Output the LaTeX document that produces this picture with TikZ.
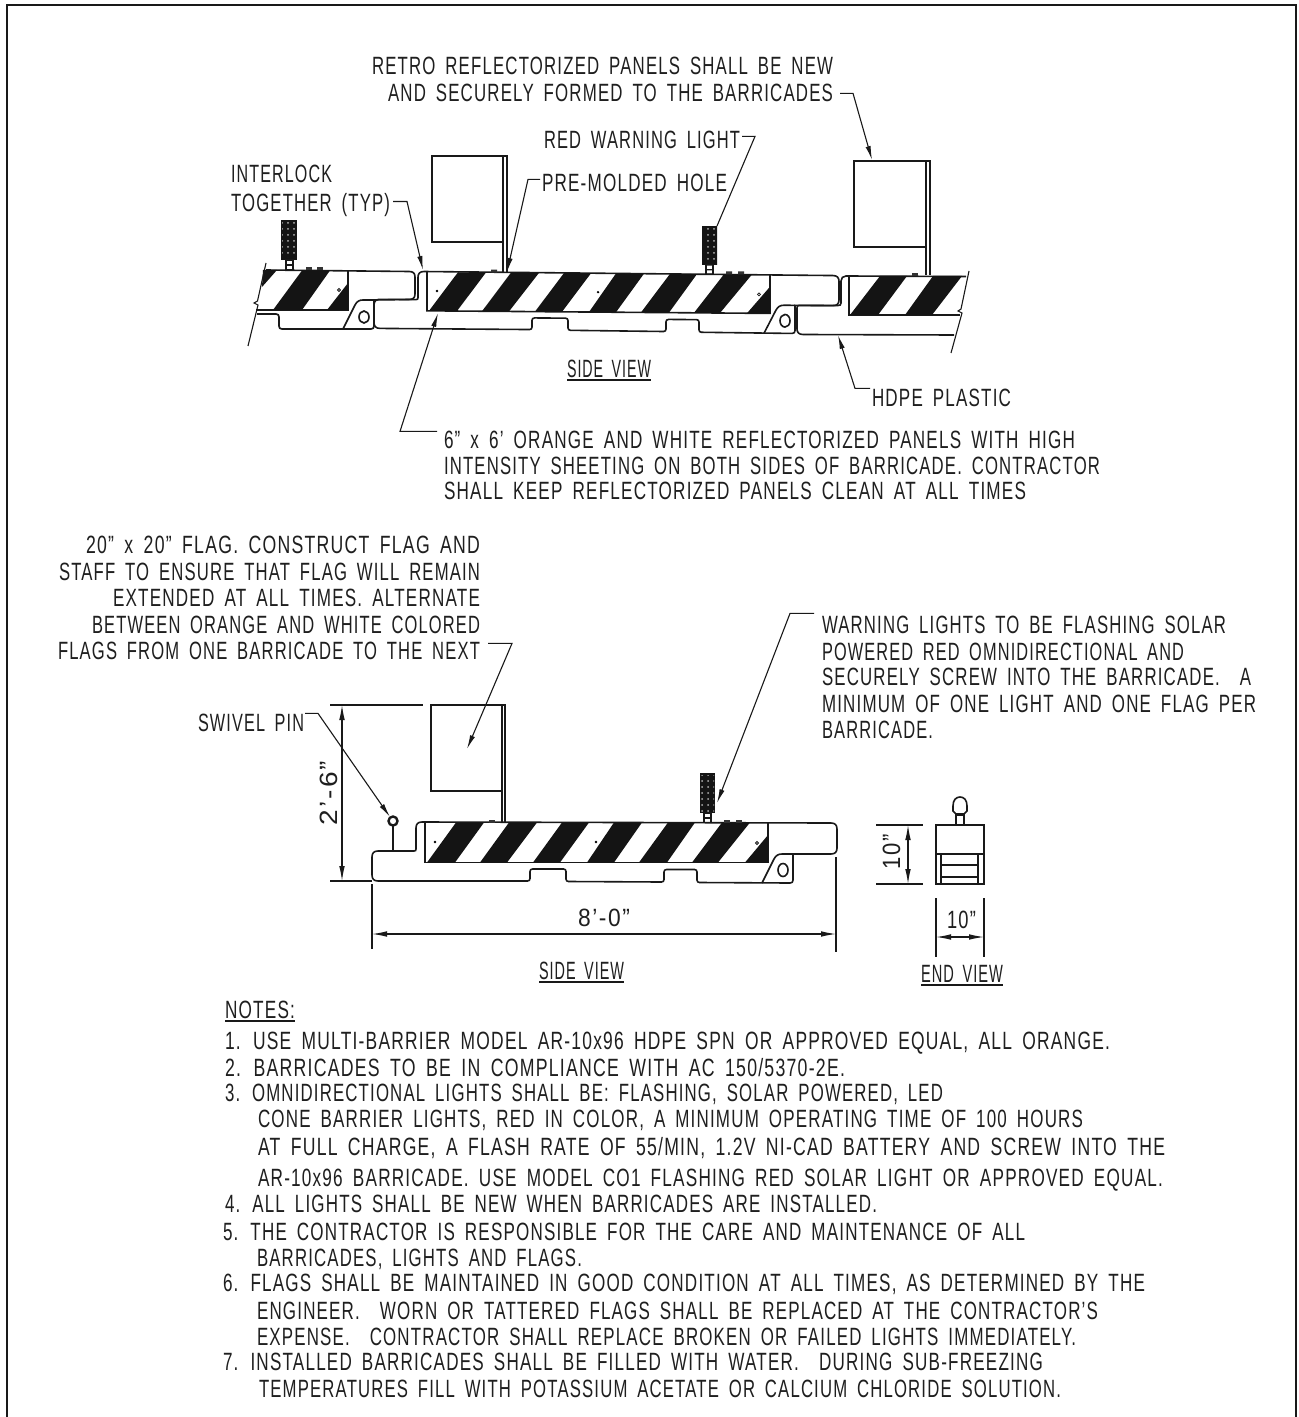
\documentclass[tikz,border=0pt]{standalone}
\usepackage{graphicx}
\usepackage{fontspec}
\setmainfont{Liberation Sans}[LetterSpace=7,WordSpace=1.7]
\usetikzlibrary{arrows.meta,calc,patterns}
\newsavebox\fitbox
\newdimen\fitdim
\newcommand\fitto[2]{\sbox\fitbox{#2}\fitdim=\wd\fitbox\edef\fitwd{\the\fitdim}\pgfmathsetmacro\fitr{(#1)*0.5/\fitwd}\scalebox{\fitr}[1]{\usebox\fitbox}}
% name, x start, baseline y, x end, text
\newcommand\Tx[5]{\node[lbl] (#1) at (#2,#3) {\fitto{#4-#2}{#5}};}
\newcommand\TxU[5]{\node[lbl] (#1) at (#2,#3) {\fitto{#4-#2}{#5}};\draw[ld] (#2,#3+3) -- (#4,#3+3);}
\tikzset{
  lbl/.style={anchor=base west,inner sep=0pt,outer sep=0pt,font=\fontsize{12.5pt}{14pt}\selectfont,text=black!88},
  ol/.style={line width=0.8pt,draw=black!90},
  ld/.style={line width=0.55pt,draw=black!90},
  arr/.style={ld,-{Latex[length=7pt,width=2.6pt]}},
  dimn/.style={ld,{Latex[length=7.5pt,width=2.8pt]}-{Latex[length=7.5pt,width=2.8pt]}},
  blk/.style={fill=black!92},
}
\newcommand\mainbarrier{%
  % outline
  \draw[ol] (372,857) .. controls (372,853) and (374,851) .. (378,851) -- (414,851) .. controls (415.5,851) and (416,850.5) .. (416,849) -- (416,828) .. controls (416,824) and (418,822) .. (422,822) -- (831,823) .. controls (835,823) and (837,825) .. (837,829) -- (837,848) .. controls (837,852) and (835,854) .. (831,854) -- (793,854) -- (793,880) .. controls (793,882) and (792,883) .. (790,883) -- (699.5,882.5) .. controls (698,882.5) and (697,881.5) .. (697,880) -- (697,872) .. controls (697,870.5) and (696,869.5) .. (694.5,869.5) -- (666.5,869.5) .. controls (665,869.5) and (664,870.5) .. (664,872) -- (664,879.5) .. controls (664,881) and (663,882) .. (661.5,882) -- (568.5,881.5) .. controls (567,881.5) and (566,880.5) .. (566,879) -- (566,871.5) .. controls (566,870) and (565,869) .. (563.5,869) -- (532.5,869) .. controls (531,869) and (530,870) .. (530,871.5) -- (530,878.5) .. controls (530,880) and (529,881) .. (527.5,881) -- (378,881) .. controls (374,881) and (372,879) .. (372,875) -- cycle;
  \draw[ol] (762,883) -- (774,859) .. controls (776,855.5) and (778,854) .. (782,854) -- (793,854);
  \draw[ol] (783,870) ellipse (5 and 6.5);
  % panel
  \draw[ol] (425,822.5) -- (425,862.5) -- (768,862.5) -- (768,822.5);
  \foreach \a/\b/\c/\d in {456/484/455/427,509/537/507/480,562/589/560/533,614/642/614/587,668/695/667/639,722/750/718/692}{
    \fill[blk] (\a,822.5) -- (\b,822.5) -- (\c,862.5) -- (\d,862.5) -- cycle;
  }
  \fill[blk] (745,862.5) -- (768,862.5) -- (768,835) -- cycle;
  % rivets and bumps
  \foreach \x in {435,596}{\fill[black] (\x,842) circle (1.3);}
  \fill[white,draw=black!90,line width=0.4pt] (757,843) circle (1.5);
  \foreach \x in {492,727,739}{\fill[black!80] (\x-3,822.5) rectangle (\x+3,819.5);}
  % warning light
  \fill[black!92] (700,773) rectangle (715,813);
  \fill[pattern=dots,pattern color=white!70!black] (701,775) rectangle (714,811);
  \draw[ol] (704,813) rectangle (711,822.5);
  \draw[ld] (704,818) -- (711,818);
}
\begin{document}
\begin{tikzpicture}[x=0.5pt,y=-0.5pt]
\useasboundingbox (0,0) rectangle (1299,1417);
\fill[white] (0,0) rectangle (1299,1417);
% frame
\draw[line width=1.1pt,draw=black!90] (7,1417) -- (7,5) -- (1296,5) -- (1296,1417);

% ---- upper drawing
\begin{scope}[cm={1,-0.0075,0,0.97,(2,-529)}]
\mainbarrier
\end{scope}
% upper flags
\draw[ol] (432,156) rectangle (503,242);
\draw[ol] (503,156) -- (507,156) -- (507,272);
\draw[ol] (503,242) -- (503,272);
\draw[ol] (854,161) rectangle (926,247);
\draw[ol] (926,161) -- (930,161) -- (930,275);
\draw[ol] (926,247) -- (926,275);
% left barrier
\draw[ol] (266,270) -- (409,271.5) .. controls (413,271.5) and (415,273) .. (415,277) -- (415,294) .. controls (415,298) and (413,299.5) .. (409,299.5) -- (374,300);
\draw[ol] (343,329) -- (355,305) .. controls (357,301.5) and (359,300) .. (363,300) -- (374,300) -- (374,326) .. controls (374,328) and (373,329) .. (371,329) -- cycle;
\draw[ol] (257,314) -- (276,314) .. controls (278,314) and (279,315) .. (279,317) -- (279,326) .. controls (279,328) and (280,329) .. (282,329) -- (343,329);
\draw[ol] (364,317) ellipse (5 and 6);
\draw[ol] (256,310) -- (348,310) -- (348,270.5);
\fill[blk] (263,270) -- (277,270) -- (262,287) -- cycle;
\fill[blk] (302,270.5) -- (330,270.5) -- (302,310) -- (273,310) -- cycle;
\fill[blk] (327,310) -- (348,310) -- (348,283) -- cycle;
\draw[ld] (266,263) -- (257.5,301) -- (254,303) -- (258,305) -- (248,346);
\fill[black!92] (281,220) rectangle (297,260);
\fill[pattern=dots,pattern color=white!70!black] (282,222) rectangle (296,258);
\draw[ol] (286,260) rectangle (293,270);
\draw[ld] (286,265) -- (293,265);
\foreach \x in {309,320}{\fill[black!80] (\x-3,270.5) rectangle (\x+3,267.5);}
\fill[white,draw=black!90,line width=0.4pt] (339,290) circle (1.5);
% right barrier
\draw[ol] (966,276.5) -- (846,276) .. controls (843,276) and (841,278) .. (841,281) -- (841,303) .. controls (841,305) and (840,305.5) .. (838,305.5) -- (799,305.5) .. controls (797.5,305.5) and (797,306) .. (797,308) -- (797,329) .. controls (797,332.5) and (799,334.5) .. (803,334.5) -- (954,335);
\draw[ol] (849,276) -- (849,315) -- (960,315);
\fill[blk] (880,276) -- (907,276) -- (878,315) -- (850,315) -- cycle;
\fill[blk] (933,276) -- (962,276) -- (932,315) -- (905,315) -- cycle;
\draw[ld] (969,271) -- (961,309) -- (958,311) -- (962,313) -- (951,353);
\fill[black!80] (912,276) rectangle (918,273);

% ---- lower drawing
\mainbarrier
\draw[ol] (431,705) rectangle (502,791);
\draw[ol] (502,705) -- (505,705) -- (505,822);
\draw[ol] (502,791) -- (502,822);
% swivel pin
\draw[ol] (393,851) -- (393,826);
\draw[line width=1.2pt,draw=black!90] (393,821) circle (4.5);
% end view
\draw[ol] (936,825) rectangle (984,884);
\draw[ol] (936,854) -- (984,854);
\draw[ld] (941,854) -- (941,884) (978,854) -- (978,884) (941,865) -- (978,865) (941,877) -- (978,877);
\draw[ol] (956,815) rectangle (964,825);
\draw[ol] (956,814) -- (953,811) -- (953,806) .. controls (953,800) and (956,797) .. (960,797) .. controls (964,797) and (967,800) .. (967,806) -- (967,811) -- (964,814) -- cycle;

% ---- dimensions
\draw[ld] (330,705) -- (423,705);
\draw[ld] (330,881) -- (372,881);
\draw[ld] (372,884) -- (372,949);
\draw[ld] (836,857) -- (836,952);
\draw[dimn] (342,705) -- (342,881);
\draw[dimn] (372,934) -- (836,934);
\draw[ld] (876,825) -- (923,825);
\draw[ld] (876,884) -- (923,884);
\draw[dimn] (908,825) -- (908,884);
\draw[ld] (936,898) -- (936,957);
\draw[ld] (984,898) -- (984,957);
\draw[dimn] (936,937) -- (984,937);
\node[lbl,rotate=90] (dimTall) at (337,825) {\fitto{64}{2'-6"}};
\node[lbl,rotate=90] (dimEndH) at (900,869) {\fitto{35}{10"}};
\Tx{dimLong}{578}{926}{630}{8'-0"}
\Tx{dimEndW}{947}{928}{976}{10"}

% ---- labels
\Tx{retroA}{372}{75}{833}{RETRO REFLECTORIZED PANELS SHALL BE NEW}
\Tx{retroB}{388}{102}{833}{AND SECURELY FORMED TO THE BARRICADES}
\Tx{redlight}{544}{149}{740}{RED WARNING LIGHT}
\Tx{premold}{542}{192}{727}{PRE-MOLDED HOLE}
\Tx{interA}{231}{183}{332}{INTERLOCK}
\Tx{interB}{231}{212}{390}{TOGETHER (TYP)}
\TxU{sideA}{567}{377}{651}{SIDE VIEW}
\Tx{hdpe}{872}{406}{1011}{HDPE PLASTIC}
\Tx{sixA}{444}{448}{1075}{6" x 6' ORANGE AND WHITE REFLECTORIZED PANELS WITH HIGH}
\Tx{sixB}{444}{474}{1100}{INTENSITY SHEETING ON BOTH SIDES OF BARRICADE. CONTRACTOR}
\Tx{sixC}{444}{499}{1026}{SHALL KEEP REFLECTORIZED PANELS CLEAN AT ALL TIMES}
\Tx{flagA}{86}{553}{480}{20" x 20" FLAG. CONSTRUCT FLAG AND}
\Tx{flagB}{59}{580}{480}{STAFF TO ENSURE THAT FLAG WILL REMAIN}
\Tx{flagC}{113}{606}{480}{EXTENDED AT ALL TIMES. ALTERNATE}
\Tx{flagD}{92}{633}{480}{BETWEEN ORANGE AND WHITE COLORED}
\Tx{flagE}{58}{659}{480}{FLAGS FROM ONE BARRICADE TO THE NEXT}
\Tx{swivel}{198}{731}{304}{SWIVEL PIN}
\Tx{warnA}{822}{633}{1226}{WARNING LIGHTS TO BE FLASHING SOLAR}
\Tx{warnB}{822}{660}{1184}{POWERED RED OMNIDIRECTIONAL AND}
\Tx{warnC}{822}{685}{1251}{SECURELY SCREW INTO THE BARRICADE.\ \ A}
\Tx{warnD}{822}{712}{1256}{MINIMUM OF ONE LIGHT AND ONE FLAG PER}
\Tx{warnE}{822}{738}{933}{BARRICADE.}
\TxU{sideB}{539}{979}{624}{SIDE VIEW}
\TxU{endV}{921}{982}{1003}{END VIEW}

% ---- notes
\TxU{notes}{225}{1018}{295}{NOTES:}
\Tx{nA}{225}{1049}{1110}{1. USE MULTI-BARRIER MODEL AR-10x96 HDPE SPN OR APPROVED EQUAL, ALL ORANGE.}
\Tx{nB}{225}{1076}{845}{2. BARRICADES TO BE IN COMPLIANCE WITH AC 150/5370-2E.}
\Tx{nC}{225}{1101}{943}{3. OMNIDIRECTIONAL LIGHTS SHALL BE: FLASHING, SOLAR POWERED, LED}
\Tx{nCb}{258}{1127}{1083}{CONE BARRIER LIGHTS, RED IN COLOR, A MINIMUM OPERATING TIME OF 100 HOURS}
\Tx{nCc}{258}{1155}{1165}{AT FULL CHARGE, A FLASH RATE OF 55/MIN, 1.2V NI-CAD BATTERY AND SCREW INTO THE}
\Tx{nCd}{258}{1186}{1163}{AR-10x96 BARRICADE. USE MODEL CO1 FLASHING RED SOLAR LIGHT OR APPROVED EQUAL.}
\Tx{nD}{225}{1212}{877}{4. ALL LIGHTS SHALL BE NEW WHEN BARRICADES ARE INSTALLED.}
\Tx{nE}{223}{1240}{1025}{5. THE CONTRACTOR IS RESPONSIBLE FOR THE CARE AND MAINTENANCE OF ALL}
\Tx{nEb}{257}{1266}{582}{BARRICADES, LIGHTS AND FLAGS.}
\Tx{nF}{223}{1291}{1145}{6. FLAGS SHALL BE MAINTAINED IN GOOD CONDITION AT ALL TIMES, AS DETERMINED BY THE}
\Tx{nFb}{257}{1319}{1098}{ENGINEER.\ \ WORN OR TATTERED FLAGS SHALL BE REPLACED AT THE CONTRACTOR'S}
\Tx{nFc}{257}{1345}{1076}{EXPENSE.\ \ CONTRACTOR SHALL REPLACE BROKEN OR FAILED LIGHTS IMMEDIATELY.}
\Tx{nG}{223}{1370}{1043}{7. INSTALLED BARRICADES SHALL BE FILLED WITH WATER.\ \ DURING SUB-FREEZING}
\Tx{nGb}{259}{1397}{1061}{TEMPERATURES FILL WITH POTASSIUM ACETATE OR CALCIUM CHLORIDE SOLUTION.}

% ---- leaders
\coordinate (tipRetro) at (872,160);
\coordinate (tipRed) at (717,226);
\coordinate (tipHole) at (507,272);
\coordinate (tipLock) at (423,270);
\coordinate (tipPanel) at (438,313);
\coordinate (tipHdpe) at (838,335);
\coordinate (tipFlag) at (467,749);
\coordinate (tipPin) at (390,817);
\coordinate (tipWarn) at (717,803);
\draw[arr] ($(retroB.east)+(7,0)$) -- ++(13,0) -- (tipRetro);
\draw[ld] ($(redlight.east)+(2,-4)$) -- ++(13,0) -- (tipRed);
\draw[arr] ($(premold.west)+(-2,-4)$) -- ++(-12,0) -- (tipHole);
\draw[arr] ($(interB.east)+(3,-4)$) -- ++(14,0) -- (tipLock);
\draw[arr] ($(sixA.west)+(-7,-8)$) -- ++(-37,0) -- (tipPanel);
\draw[arr] ($(hdpe.west)+(-2,-9)$) -- ++(-15,0) -- (tipHdpe);
\draw[arr] ($(flagE.east)+(8,-7)$) -- ++(24,0) -- (tipFlag);
\draw[arr] ($(swivel.east)+(1,-9)$) -- ++(13,0) -- (tipPin);
\draw[arr] ($(warnA.west)+(-8,-11)$) -- ++(-24,0) -- (tipWarn);
\end{tikzpicture}
\end{document}
